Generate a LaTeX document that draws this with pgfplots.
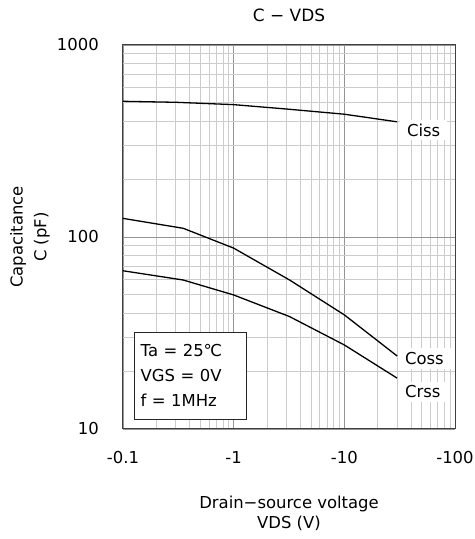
\documentclass[border=0pt]{standalone}
\usepackage{fontspec}
\setmainfont{DejaVu Sans}
\usepackage{pgfplots}
\pgfplotsset{compat=1.18}
\begin{document}
\fontsize{16.5}{20}\selectfont
\begin{tikzpicture}[x=1bp,y=1bp]
\path[use as bounding box] (-123,-110) rectangle (352,429);
\begin{axis}[at={(0,0)}, anchor=south west, scale only axis,
  width=332bp, height=384bp,
  xmode=log, ymode=log, xmin=0.1, xmax=100, ymin=10, ymax=1000,
  xtick={0.1,1,10,100}, xticklabels={-0.1,-1,-10,-100},
  ytick={10,100,1000}, yticklabels={10,100,1000},
  grid=both,
  major grid style={color=black!42, line width=0.8bp},
  minor grid style={color=black!20, line width=0.8bp},
  axis line style={color=black!75, line width=1bp},
  major tick length=0pt, minor tick length=0pt,
  tick label style={font=\fontsize{16.5}{20}\selectfont, inner sep=0pt},
  yticklabel style={anchor=east, xshift=-24bp},
  xticklabel style={anchor=center, yshift=-29bp},
  title={C − VDS},
  title style={at={(axis description cs:0.5,1)}, anchor=center, yshift=24bp, font=\fontsize{17}{20}\selectfont},
  xlabel={Drain−source voltage\\VDS (V)},
  xlabel style={at={(axis description cs:0.5,0)}, anchor=center, yshift=-84.5bp, align=center, font=\fontsize{16.5}{19.5}\selectfont},
  clip=false,
]
\addplot[black, line width=1.3bp] coordinates {(0.1,509) (0.3,503) (1,489) (3,464) (10,436) (30,398)};
\addplot[black, line width=1.3bp] coordinates {(0.1,125) (0.35,111) (1,87.5) (3.2,59.7) (10,39.3) (30,24)};
\addplot[black, line width=1.3bp] coordinates {(0.1,66.7) (0.35,59.7) (1,49.9) (3.2,38.5) (10,27.4) (30,18.4)};
\node[anchor=west, fill=white, inner xsep=7bp, inner ysep=4bp] at (axis cs:31.8,361) {Ciss};
\node[anchor=west, fill=white, inner xsep=7bp, inner ysep=4bp] at (axis cs:30.5,23.3) {Coss};
\node[anchor=west, fill=white, inner xsep=7bp, inner ysep=4bp] at (axis cs:30.5,15.6) {Crss};
\node[draw=black!85, line width=0.8bp, fill=white, anchor=south west, minimum width=111.4bp, minimum height=87bp, text width=99.4bp, inner xsep=6bp, align=left, font=\fontsize{16.5}{25}\selectfont] at (rel axis cs:0.034,0.025) {Ta = 25℃\\VGS = 0V\\f = 1MHz};
\end{axis}
\node[rotate=90, align=center, font=\fontsize{16.5}{24}\selectfont] at (-93,192) {Capacitance\\C (pF)};
\end{tikzpicture}
\end{document}
